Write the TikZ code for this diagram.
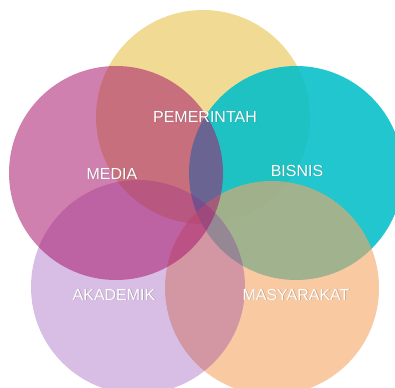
\documentclass[tikz,border=0pt]{standalone}
\usepackage{fontspec}
\setmainfont{Liberation Sans}
\usetikzlibrary{positioning}
\definecolor{GovYellow}{RGB}{241,219,148}
\definecolor{BizCyan}{RGB}{9,192,201}
\definecolor{SocPeach}{RGB}{245,165,100}
\definecolor{AcadLilac}{RGB}{125,38,165}
\definecolor{MediaPink}{RGB}{168,24,108}
\newcommand{\softshadow}[1]{\makebox[0pt][l]{\pgfsetfillopacity{0.35}\raisebox{-0.9pt}{\hspace{0.7pt}\textcolor{black!70}{#1}}}\pgfsetfillopacity{1}#1}
\tikzset{
  ring/.style={circle, draw=none, minimum size=214pt, inner sep=0pt},
  tag/.style={text=white, font=\fontsize{16}{18}\selectfont, inner sep=0pt},
}
\begin{document}
\begin{tikzpicture}[x=1pt, y=-1pt]
  \useasboundingbox (0,0) rectangle (395,387);
  % the five circles, back to front
  \foreach \n/\c/\o/\x/\y in {pem/GovYellow/1/203/117, bis/BizCyan/0.9/296/173,
      mas/SocPeach/0.6/272/288, aka/AcadLilac/0.3/138/287, med/MediaPink/0.55/116/173}
    \node[ring, fill=\c, fill opacity=\o] (\n) at (\x,\y) {};
  % labels
  \node[tag] (tpem) at (205,117) {\softshadow{PEMERINTAH}};
  \node[tag] (tmed) at (112,174) {\softshadow{MEDIA}};
  \node[tag] (tbis) at (297,171) {\softshadow{BISNIS}};
  \node[tag] (taka) at (114,295) {\softshadow{AKADEMIK}};
  \node[tag] (tmas) at (296,295) {\softshadow{MASYARAKAT}};
\end{tikzpicture}
\end{document}
